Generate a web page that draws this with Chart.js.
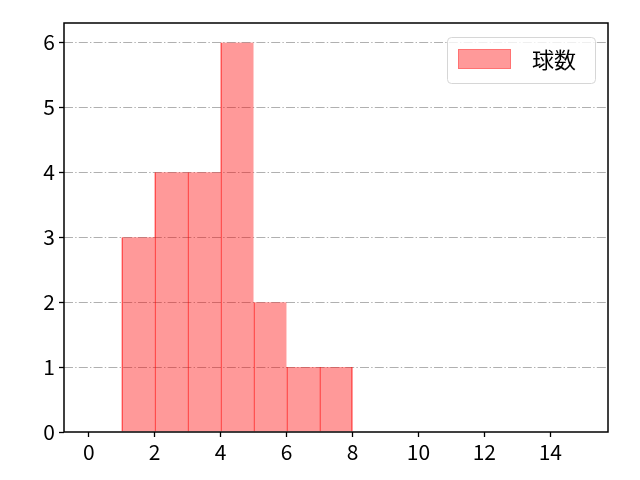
<!DOCTYPE html>
<html>
<head>
<meta charset="utf-8">
<script src="https://cdn.jsdelivr.net/npm/chart.js@4"></script>
<style>
html,body{margin:0;padding:0;background:#fff;}
#wrap{width:640px;height:480px;}
</style>
</head>
<body>
<div id="wrap"><canvas id="c" width="640" height="480"></canvas></div>
<script>
const binStarts = [1, 2, 3, 4, 5, 6, 7];
const counts = [3, 4, 4, 6, 2, 1, 1];
const seriesLabel = '球数';
const xTicks = [0, 2, 4, 6, 8, 10, 12, 14];
const yTicks = [0, 1, 2, 3, 4, 5, 6];

const FONT = "'Noto Sans CJK JP', 'DejaVu Sans', sans-serif";
const data = binStarts.map((s, i) => ({ x: s + 0.5, y: counts[i] }));

const overlay = {
  id: 'overlay',
  beforeDatasetsDraw(chart) {
    const { ctx, chartArea: a, scales } = chart;
    ctx.save();
    ctx.strokeStyle = '#b0b0b0';
    ctx.lineWidth = 1;
    ctx.setLineDash([9, 2.2, 1.4, 2.2]);
    yTicks.forEach(v => {
      const y = Math.round(scales.y.getPixelForValue(v)) + 0.5;
      if (v === 0) return;
      ctx.beginPath();
      ctx.moveTo(a.left, y);
      ctx.lineTo(a.right, y);
      ctx.stroke();
    });
    ctx.restore();
  },
  afterDraw(chart) {
    const { ctx, chartArea: a } = chart;
    ctx.save();
    ctx.strokeStyle = '#000';
    ctx.lineWidth = 1.5;
    ctx.strokeRect(a.left, a.top, a.right - a.left, a.bottom - a.top);
    // legend
    const bx = 447, by = 37, bw = 148, bh = 46, r = 4;
    ctx.fillStyle = 'rgba(255,255,255,0.8)';
    ctx.strokeStyle = '#d6d6d6';
    ctx.lineWidth = 1;
    ctx.beginPath();
    ctx.roundRect(bx + 0.5, by + 0.5, bw, bh, r);
    ctx.fill();
    ctx.stroke();
    ctx.fillStyle = 'rgba(255,0,0,0.4)';
    ctx.strokeStyle = 'rgba(255,0,0,0.25)';
    ctx.fillRect(458, 49, 53, 20);
    ctx.strokeRect(458.5, 49.5, 52, 19);
    ctx.fillStyle = '#000';
    ctx.font = '22px ' + FONT;
    ctx.textBaseline = 'middle';
    ctx.textAlign = 'left';
    ctx.fillText(seriesLabel, 532, 60);
    ctx.restore();
  }
};

new Chart(document.getElementById('c'), {
  type: 'bar',
  data: {
    datasets: [{
      label: seriesLabel,
      data: data,
      backgroundColor: 'rgba(255,0,0,0.4)',
      borderColor: 'rgba(255,0,0,0.6)',
      borderWidth: (ctx) => ({ left: 1, right: ctx.dataIndex === counts.length - 1 ? 1 : 0, top: 0, bottom: 0 }),
      borderSkipped: false,
      barPercentage: 1,
      categoryPercentage: 1,
      grouped: false
    }]
  },
  options: {
    responsive: false,
    animation: false,
    devicePixelRatio: 1,
    layout: { padding: { left: 0, top: 23, right: 32, bottom: 0 } },
    plugins: { legend: { display: false }, tooltip: { enabled: false } },
    scales: {
      x: {
        type: 'linear',
        offset: false,
        min: -0.75,
        max: 15.75,
        afterBuildTicks(scale) { scale.ticks = xTicks.map(v => ({ value: v })); },
        afterFit(scale) { scale.height = 48; },
        ticks: { color: '#000', font: { family: FONT, size: 21 }, padding: 2, autoSkip: false, maxRotation: 0 },
        grid: { offset: false, drawOnChartArea: false, drawTicks: true, tickLength: 5, tickColor: '#000', tickWidth: 1.3 },
        border: { display: false }
      },
      y: {
        type: 'linear',
        min: 0,
        max: 6.3,
        afterBuildTicks(scale) { scale.ticks = yTicks.map(v => ({ value: v })); },
        afterFit(scale) { scale.width = 64; },
        ticks: { color: '#000', font: { family: FONT, size: 21 }, padding: 4, autoSkip: false },
        grid: { drawOnChartArea: false, drawTicks: true, tickLength: 5, tickColor: '#000', tickWidth: 1.3 },
        border: { display: false }
      }
    }
  },
  plugins: [overlay]
});
</script>
</body>
</html>
